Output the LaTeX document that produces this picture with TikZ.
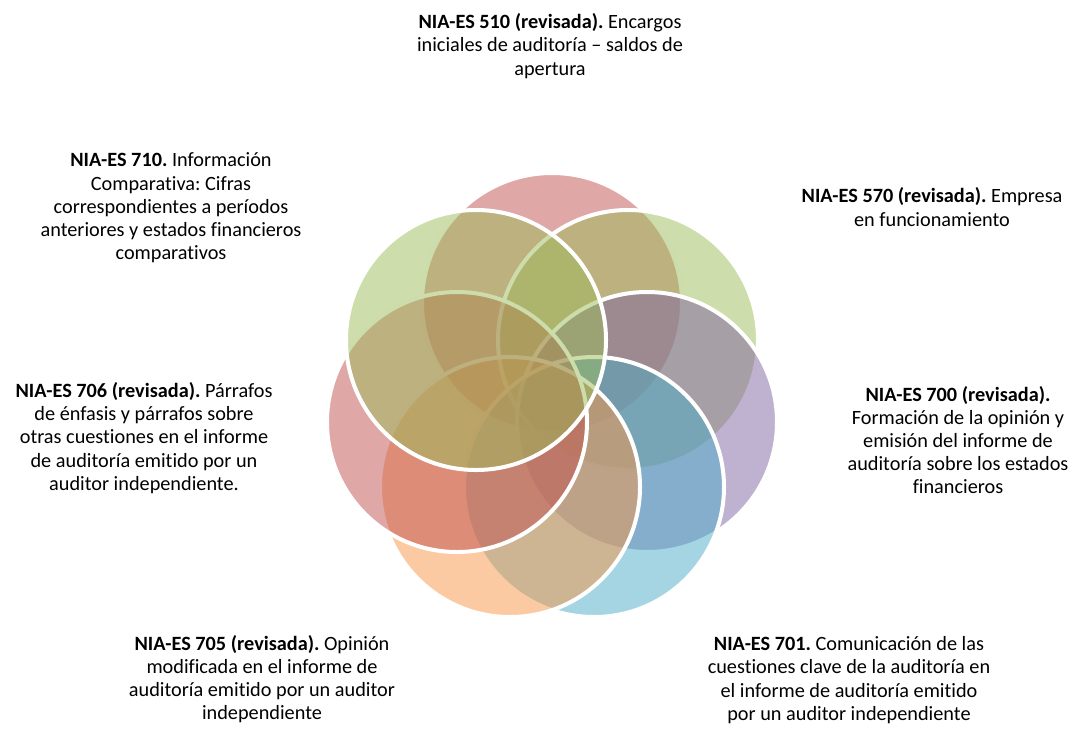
\documentclass[tikz,border=0pt]{standalone}
\usepackage{fontspec}
\setmainfont{Carlito}[Ligatures=NoCommon]
\usepackage{xcolor}
\usetikzlibrary{shapes,positioning}
\frenchspacing

\definecolor{niared}{HTML}{C0504D}
\definecolor{niagreen}{HTML}{9BBB59}
\definecolor{niapurple}{HTML}{8064A2}
\definecolor{niablue}{HTML}{4BACC6}
\definecolor{niaorange}{HTML}{F79646}

\begin{document}
\begin{tikzpicture}[x=0.75pt, y=-0.75pt]
% Define styles
\tikzstyle{petal} = [circle, draw=white, line width=3pt, minimum size=195pt, inner sep=0pt, fill opacity=0.5]
\tikzstyle{desc} = [align=center, inner sep=0pt, font=\fontsize{15.2}{17.4}\selectfont]

\useasboundingbox (0,0) rectangle (1077,729);

% Circles
\node[petal, fill=niared] (c510) at (552,303) {};
\node[petal, fill=niagreen] (c570) at (628,340) {};
\node[petal, fill=niapurple] (c700) at (647,422) {};
\node[petal, fill=niablue] (c701) at (594,487) {};
\node[petal, fill=niaorange] (c705) at (510,487) {};
\node[petal, fill=niared] (c706) at (457,422) {};
\node[petal, fill=niagreen] (c710) at (476,340) {};

% Texts
\node[desc] (t510) at (550,46) {\textbf{NIA-ES 510 (revisada).} Encargos\\iniciales de auditoría – saldos de\\apertura};
\node[desc] (t570) at (932,207) {\textbf{NIA-ES 570 (revisada).} Empresa\\en funcionamiento};
\node[desc] (t700) at (958,440) {\textbf{NIA-ES 700 (revisada).}\\Formación de la opinión y\\emisión del informe de\\auditoría sobre los estados\\financieros};
\node[desc] (t701) at (849,680) {\textbf{NIA-ES 701.} Comunicación de las\\cuestiones clave de la auditoría en\\el informe de auditoría emitido\\por un auditor independiente};
\node[desc] (t705) at (262,679) {\textbf{NIA-ES 705 (revisada).} Opinión\\modificada en el informe de\\auditoría emitido por un auditor\\independiente};
\node[desc] (t706) at (144,438) {\textbf{NIA-ES 706 (revisada).} Párrafos\\de énfasis y párrafos sobre\\otras cuestiones en el informe\\de auditoría emitido por un\\auditor independiente.};
\node[desc] (t710) at (171,208) {\textbf{NIA-ES 710.} Información\\Comparativa: Cifras\\correspondientes a períodos\\anteriores y estados financieros\\comparativos};

\end{tikzpicture}
\end{document}
